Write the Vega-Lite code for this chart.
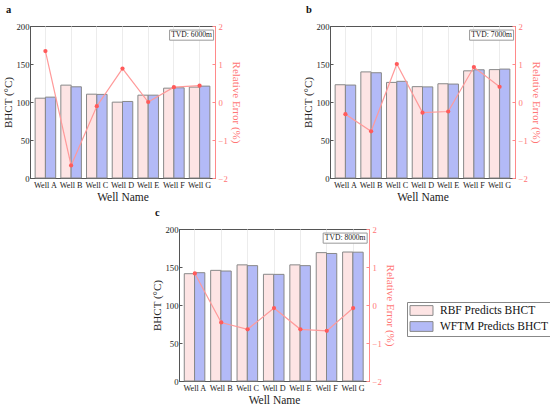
{
  "$schema": "https://vega.github.io/schema/vega-lite/v6.json",
  "padding": {"left": 2, "top": 4, "right": 0, "bottom": 0},
  "background": "white",
  "datasets": {
    "a": [
      {"well": "Well A", "rbf": 105.0, "wftm": 106.4, "err": 1.34},
      {"well": "Well B", "rbf": 122.2, "wftm": 120.0, "err": -1.67},
      {"well": "Well C", "rbf": 110.3, "wftm": 110.0, "err": -0.11},
      {"well": "Well D", "rbf": 99.8, "wftm": 100.7, "err": 0.88},
      {"well": "Well E", "rbf": 109.0, "wftm": 109.0, "err": 0.0},
      {"well": "Well F", "rbf": 118.2, "wftm": 118.7, "err": 0.39},
      {"well": "Well G", "rbf": 119.6, "wftm": 120.9, "err": 0.43}
    ],
    "b": [
      {"well": "Well A", "rbf": 122.7, "wftm": 122.3, "err": -0.32},
      {"well": "Well B", "rbf": 139.6, "wftm": 138.5, "err": -0.77},
      {"well": "Well C", "rbf": 125.8, "wftm": 127.2, "err": 1.0},
      {"well": "Well D", "rbf": 120.2, "wftm": 119.9, "err": -0.28},
      {"well": "Well E", "rbf": 124.0, "wftm": 123.6, "err": -0.25},
      {"well": "Well F", "rbf": 141.0, "wftm": 142.4, "err": 0.92},
      {"well": "Well G", "rbf": 142.6, "wftm": 143.3, "err": 0.4}
    ],
    "c": [
      {"well": "Well A", "rbf": 141.2, "wftm": 142.5, "err": 0.83},
      {"well": "Well B", "rbf": 145.6, "wftm": 144.7, "err": -0.46},
      {"well": "Well C", "rbf": 152.8, "wftm": 151.8, "err": -0.64},
      {"well": "Well D", "rbf": 140.4, "wftm": 140.3, "err": -0.08},
      {"well": "Well E", "rbf": 152.8, "wftm": 151.8, "err": -0.64},
      {"well": "Well F", "rbf": 168.9, "wftm": 167.8, "err": -0.68},
      {"well": "Well G", "rbf": 169.7, "wftm": 169.5, "err": -0.08}
    ],
    "tvd_a": [{"well": "Well G", "y": 188, "label": "TVD: 6000m"}],
    "tvd_b": [{"well": "Well G", "y": 188, "label": "TVD: 7000m"}],
    "tvd_c": [{"well": "Well G", "y": 188, "label": "TVD: 8000m"}]
  },
  "config": {
    "font": "Liberation Serif",
    "view": {"stroke": "#555", "strokeWidth": 1},
    "title": {"font": "Liberation Serif", "fontSize": 10.5, "fontWeight": "bold", "color": "#111", "anchor": "start", "frame": "bounds", "offset": 7, "dx": 3},
    "axis": {"labelFont": "Liberation Serif", "titleFont": "Liberation Serif", "labelFontSize": 8.7, "titleFontSize": 11, "titleFontWeight": "normal", "labelColor": "#222", "titleColor": "#222", "domainColor": "#555", "tickColor": "#555", "grid": false, "labelOverlap": false},
    "axisX": {"ticks": false, "labelAngle": 0, "labelFontSize": 8.2, "labelPadding": 3, "grid": true, "gridColor": "#ececec", "bandPosition": 0.5, "titlePadding": 3, "titleFontSize": 11.5},
    "axisLeft": {"tickSize": -3, "labelPadding": 4, "titlePadding": 2, "tickCount": 5, "labelOverlap": false},
    "axisRight": {"tickSize": -3, "labelPadding": 6, "titlePadding": 3, "tickCount": 5, "labelOverlap": false, "domainColor": "#ff8a8a", "tickColor": "#ff8a8a", "labelColor": "#ff7575", "titleColor": "#ff7575"},
    "legend": {"labelFont": "Liberation Serif", "labelFontSize": 11.5, "labelColor": "#111", "strokeColor": "#888", "fillColor": "white", "padding": 2, "rowPadding": 1, "symbolType": "M-2,-0.85H2V0.85H-2Z", "symbolSize": 132, "symbolOffset": 6, "symbolStrokeColor": "#888", "symbolStrokeWidth": 1, "labelOffset": 12}
  },
  "spacing": 3,
  "vconcat": [
    {
      "spacing": 60,
      "hconcat": [
        {
          "title": "a",
          "width": 185, "height": 152,
          "data": {"name": "a"},
          "layer": [
            {
              "layer": [
                {
                  "transform": [{"fold": ["rbf", "wftm"], "as": ["model", "bhct"]}],
                  "mark": {"type": "bar", "stroke": "#888", "strokeWidth": 1},
                  "encoding": {
                    "x": {"field": "well", "type": "nominal", "title": "Well Name", "scale": {"paddingInner": 0.2, "paddingOuter": 0.2}},
                    "xOffset": {"field": "model", "type": "nominal"},
                    "y": {"field": "bhct", "type": "quantitative", "title": "BHCT (°C)", "scale": {"domain": [0, 200]}, "axis": {"tickCount": 5, "labelOverlap": false}},
                    "fill": {"field": "model", "type": "nominal", "title": null, "scale": {"domain": ["rbf", "wftm"], "range": ["#fde4e4", "#b3baf7"]},
                      "legend": {"orient": "none", "legendX": 377, "legendY": 276, "labelExpr": "datum.label == 'rbf' ? 'RBF Predicts BHCT' : 'WFTM Predicts BHCT'"}}
                  }
                },
                {
                  "data": {"name": "tvd_a"},
                  "mark": {"type": "point", "shape": "M-1,-0.23H1V0.23H-1Z", "size": 1936, "filled": true, "fill": "white", "stroke": "#999", "strokeWidth": 1, "opacity": 1, "xOffset": -8},
                  "encoding": {"x": {"field": "well", "type": "nominal"}, "y": {"field": "y", "type": "quantitative"}}
                },
                {
                  "data": {"name": "tvd_a"},
                  "mark": {"type": "text", "fontSize": 7.6, "color": "#222", "xOffset": -8, "baseline": "middle"},
                  "encoding": {"x": {"field": "well", "type": "nominal"}, "y": {"field": "y", "type": "quantitative"}, "text": {"field": "label"}}
                }
              ]
            },
            {
              "layer": [
                {
                  "mark": {"type": "line", "color": "#ff9a9a", "strokeWidth": 1.2},
                  "encoding": {
                    "x": {"field": "well", "type": "nominal"},
                    "y": {"field": "err", "type": "quantitative", "title": "Relative Error (%)", "scale": {"domain": [-2, 2]}, "axis": {"orient": "right", "tickCount": 5, "labelOverlap": false}}
                  }
                },
                {
                  "mark": {"type": "point", "filled": true, "color": "#ff5a5a", "size": 18, "opacity": 1},
                  "encoding": {"x": {"field": "well", "type": "nominal"}, "y": {"field": "err", "type": "quantitative"}}
                }
              ]
            }
          ],
          "resolve": {"scale": {"y": "independent"}, "axis": {"y": "independent"}}
        },
        {
          "title": "b",
          "width": 185, "height": 152,
          "data": {"name": "b"},
          "layer": [
            {
              "layer": [
                {
                  "transform": [{"fold": ["rbf", "wftm"], "as": ["model", "bhct"]}],
                  "mark": {"type": "bar", "stroke": "#888", "strokeWidth": 1},
                  "encoding": {
                    "x": {"field": "well", "type": "nominal", "title": "Well Name", "scale": {"paddingInner": 0.2, "paddingOuter": 0.2}},
                    "xOffset": {"field": "model", "type": "nominal"},
                    "y": {"field": "bhct", "type": "quantitative", "title": "BHCT (°C)", "scale": {"domain": [0, 200]}, "axis": {"tickCount": 5, "labelOverlap": false}},
                    "fill": {"field": "model", "type": "nominal", "title": null, "scale": {"domain": ["rbf", "wftm"], "range": ["#fde4e4", "#b3baf7"]},
                      "legend": {"orient": "none", "legendX": 377, "legendY": 276, "labelExpr": "datum.label == 'rbf' ? 'RBF Predicts BHCT' : 'WFTM Predicts BHCT'"}}
                  }
                },
                {
                  "data": {"name": "tvd_b"},
                  "mark": {"type": "point", "shape": "M-1,-0.23H1V0.23H-1Z", "size": 1936, "filled": true, "fill": "white", "stroke": "#999", "strokeWidth": 1, "opacity": 1, "xOffset": -8},
                  "encoding": {"x": {"field": "well", "type": "nominal"}, "y": {"field": "y", "type": "quantitative"}}
                },
                {
                  "data": {"name": "tvd_b"},
                  "mark": {"type": "text", "fontSize": 7.6, "color": "#222", "xOffset": -8, "baseline": "middle"},
                  "encoding": {"x": {"field": "well", "type": "nominal"}, "y": {"field": "y", "type": "quantitative"}, "text": {"field": "label"}}
                }
              ]
            },
            {
              "layer": [
                {
                  "mark": {"type": "line", "color": "#ff9a9a", "strokeWidth": 1.2},
                  "encoding": {
                    "x": {"field": "well", "type": "nominal"},
                    "y": {"field": "err", "type": "quantitative", "title": "Relative Error (%)", "scale": {"domain": [-2, 2]}, "axis": {"orient": "right", "tickCount": 5, "labelOverlap": false}}
                  }
                },
                {
                  "mark": {"type": "point", "filled": true, "color": "#ff5a5a", "size": 18, "opacity": 1},
                  "encoding": {"x": {"field": "well", "type": "nominal"}, "y": {"field": "err", "type": "quantitative"}}
                }
              ]
            }
          ],
          "resolve": {"scale": {"y": "independent"}, "axis": {"y": "independent"}}
        }
      ]
    },
    {
      "spacing": 10,
      "hconcat": [
        {
          "width": 111, "height": 10,
          "data": {"values": []},
          "mark": {"type": "point", "opacity": 0},
          "view": {"stroke": null}
        },
        {
          "title": "c",
          "width": 190, "height": 152,
          "data": {"name": "c"},
          "layer": [
            {
              "layer": [
                {
                  "transform": [{"fold": ["rbf", "wftm"], "as": ["model", "bhct"]}],
                  "mark": {"type": "bar", "stroke": "#888", "strokeWidth": 1},
                  "encoding": {
                    "x": {"field": "well", "type": "nominal", "title": "Well Name", "scale": {"paddingInner": 0.2, "paddingOuter": 0.2}},
                    "xOffset": {"field": "model", "type": "nominal"},
                    "y": {"field": "bhct", "type": "quantitative", "title": "BHCT (°C)", "scale": {"domain": [0, 200]}, "axis": {"tickCount": 5, "labelOverlap": false}},
                    "fill": {"field": "model", "type": "nominal", "title": null, "scale": {"domain": ["rbf", "wftm"], "range": ["#fde4e4", "#b3baf7"]},
                      "legend": {"orient": "none", "legendX": 377, "legendY": 276, "labelExpr": "datum.label == 'rbf' ? 'RBF Predicts BHCT' : 'WFTM Predicts BHCT'"}}
                  }
                },
                {
                  "data": {"name": "tvd_c"},
                  "mark": {"type": "point", "shape": "M-1,-0.23H1V0.23H-1Z", "size": 1936, "filled": true, "fill": "white", "stroke": "#999", "strokeWidth": 1, "opacity": 1, "xOffset": -8},
                  "encoding": {"x": {"field": "well", "type": "nominal"}, "y": {"field": "y", "type": "quantitative"}}
                },
                {
                  "data": {"name": "tvd_c"},
                  "mark": {"type": "text", "fontSize": 7.6, "color": "#222", "xOffset": -8, "baseline": "middle"},
                  "encoding": {"x": {"field": "well", "type": "nominal"}, "y": {"field": "y", "type": "quantitative"}, "text": {"field": "label"}}
                }
              ]
            },
            {
              "layer": [
                {
                  "mark": {"type": "line", "color": "#ff9a9a", "strokeWidth": 1.2},
                  "encoding": {
                    "x": {"field": "well", "type": "nominal"},
                    "y": {"field": "err", "type": "quantitative", "title": "Relative Error (%)", "scale": {"domain": [-2, 2]}, "axis": {"orient": "right", "tickCount": 5, "labelOverlap": false}}
                  }
                },
                {
                  "mark": {"type": "point", "filled": true, "color": "#ff5a5a", "size": 18, "opacity": 1},
                  "encoding": {"x": {"field": "well", "type": "nominal"}, "y": {"field": "err", "type": "quantitative"}}
                }
              ]
            }
          ],
          "resolve": {"scale": {"y": "independent"}, "axis": {"y": "independent"}}
        }
      ]
    }
  ]
}
